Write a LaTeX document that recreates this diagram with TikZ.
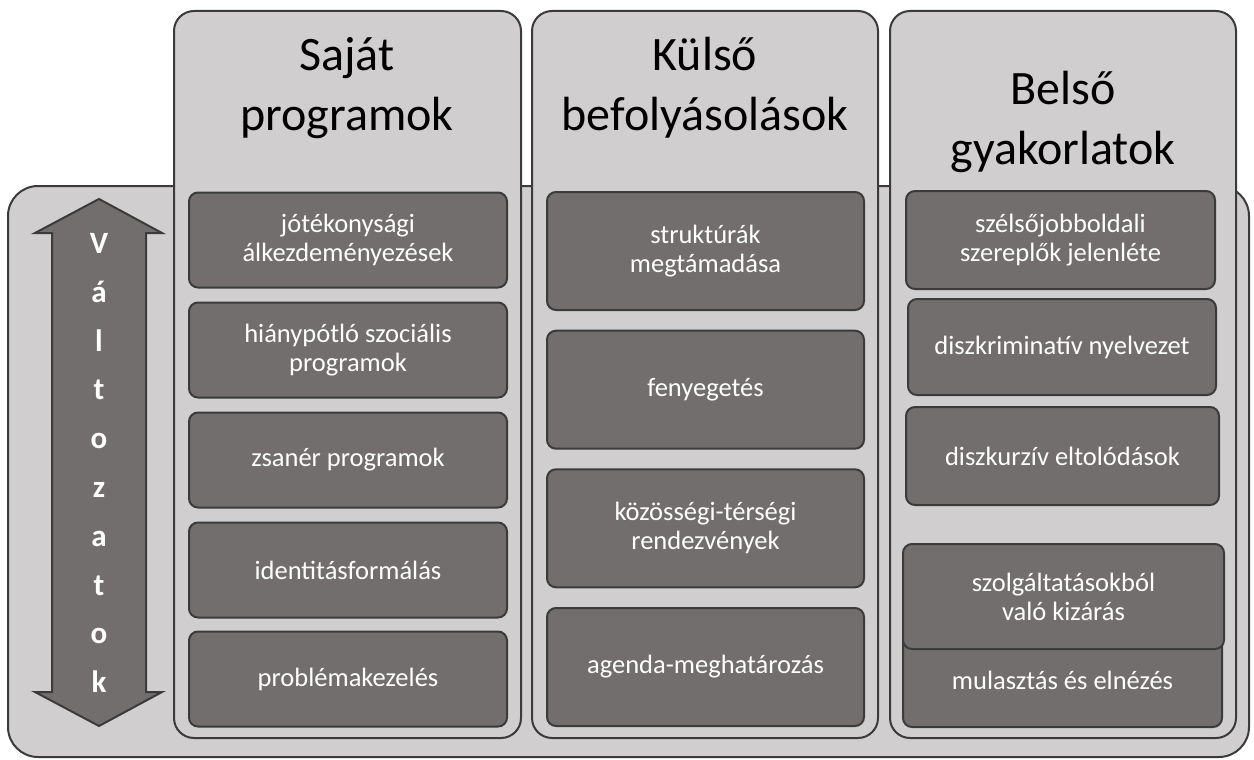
\documentclass[tikz,border=0pt]{standalone}
\usepackage{fontspec}
\setmainfont{Carlito}
\definecolor{colfill}{HTML}{D0CECE}
\definecolor{cellfill}{HTML}{726E6D}
\definecolor{edge}{HTML}{3B3B3B}
\begin{document}
\begin{tikzpicture}[x=1pt,y=-1pt,
 outerbox/.style={draw=edge, fill=colfill, line width=2pt, rounded corners=30pt},
 colbox/.style={draw=edge, fill=colfill, line width=2pt, rounded corners=20pt},
 cell/.style={draw=edge, fill=cellfill, line width=2pt, rounded corners=9pt, text=white, align=center, font=\fontsize{26.5}{29}\selectfont, inner sep=0pt},
 hdr/.style={align=center, font=\fontsize{48}{60}\selectfont, inner sep=0pt},
 arrowshape/.style={draw=edge, fill=cellfill, line width=2pt, line join=miter}]
\useasboundingbox (0,0) rectangle (1254,760);
\path[outerbox] (8,186) rectangle (1249,757);
% columns
\path[colbox] (174,11) rectangle (521,738);
\path[colbox] (532,11) rectangle (878,738);
\path[colbox] (890,11) rectangle (1236,738);
% headers
\node[hdr] (h1) at (347,88) {Saját\\programok};
\node[hdr] (h2) at (705,88) {Külső\\befolyásolások};
\node[hdr] (h3) at (1063,122) {Belső\\gyakorlatok};
% left arrow
\path[arrowshape] (99,199) -- (162,233) -- (146,233) -- (146,692) -- (162,692) -- (99,726) -- (35,692) -- (52,692) -- (52,233) -- (35,233) -- cycle;
\node[text=white, font=\bfseries\fontsize{31}{48.8}\selectfont, align=center, inner sep=0pt] (vlt) at (99,463) {V\\á\\l\\t\\o\\z\\a\\t\\o\\k};
% column 1 cells
\node[cell, minimum width=318pt, minimum height=95pt] (a1) at (348,240) {jótékonysági\\álkezdeményezések};
\node[cell, minimum width=318pt, minimum height=95pt] (a2) at (348,350) {hiánypótló szociális\\programok};
\node[cell, minimum width=318pt, minimum height=95pt] (a3) at (348,460) {zsanér programok};
\node[cell, minimum width=318pt, minimum height=95pt] (a4) at (348,570) {identitásformálás};
\node[cell, minimum width=318pt, minimum height=95pt] (a5) at (348,679) {problémakezelés};
% column 2 cells
\node[cell, minimum width=317pt, minimum height=118pt] (b1) at (705.5,251) {struktúrák\\megtámadása};
\node[cell, minimum width=317pt, minimum height=118pt] (b2) at (705.5,389.7) {fenyegetés};
\node[cell, minimum width=317pt, minimum height=118pt] (b3) at (705.5,528.3) {közösségi-térségi\\rendezvények};
\node[cell, minimum width=317pt, minimum height=118pt] (b4) at (705.5,667) {agenda-meghatározás};
% column 3 cells
\node[cell, minimum width=309pt, minimum height=98pt] (c1) at (1060.5,240) {szélsőjobboldali\\szereplők jelenléte};
\node[cell, minimum width=308pt, minimum height=96pt] (c2) at (1062,347) {diszkriminatív nyelvezet};
\node[cell, minimum width=313pt, minimum height=98pt] (c3) at (1062.5,456) {diszkurzív eltolódások};
\node[cell, minimum width=319pt, minimum height=94pt] (c5) at (1062.5,680) {mulasztás és elnézés};
\node[cell, minimum width=321pt, minimum height=105pt] (c4) at (1063.5,596.5) {szolgáltatásokból\\való kizárás};
\end{tikzpicture}
\end{document}
